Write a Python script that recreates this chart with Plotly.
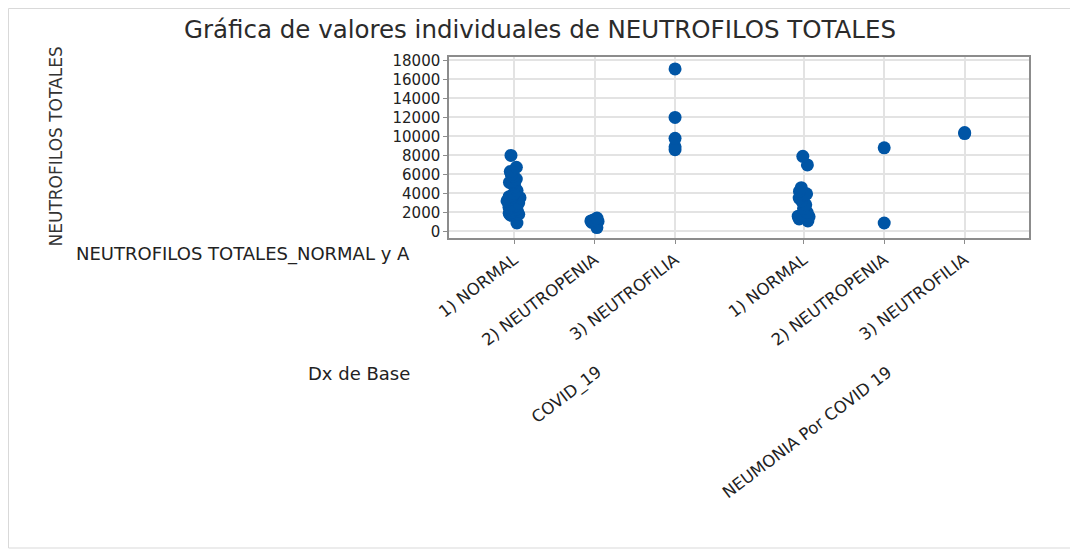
import plotly.graph_objects as go

# ---- data ----
groups = ["COVID_19", "NEUMONIA Por COVID 19"]
categories = ["1) NORMAL", "2) NEUTROPENIA", "3) NEUTROFILIA"]

covid_normal = [8000, 6750, 6300, 6000, 5800, 5500, 5250, 5200, 5150, 5000, 4700,
                4300, 4000, 3800, 3650, 3600, 3550, 3400, 3200, 3000, 2800, 2700,
                2550, 2500, 2300, 2200, 2100, 2000, 1900, 1800, 1700, 880]
covid_neutropenia = [1400, 1200, 1100, 1050, 950, 400]
covid_neutrofilia = [17100, 12000, 9800, 8900, 8600]
neumonia_normal = [7900, 7000, 4600, 4200, 3950, 3900, 3850, 3500, 3200, 2800,
                   2400, 2000, 1700, 1600, 1550, 1300, 1100]
neumonia_neutropenia = [8800, 880]
neumonia_neutrofilia = [10400, 10300]

series = [
    [covid_normal, covid_neutropenia, covid_neutrofilia],
    [neumonia_normal, neumonia_neutropenia, neumonia_neutrofilia],
]
jitters = [[0.9, 0.5, 0.0], [0.9, 0.0, 0.0]]

y_ticks = [0, 2000, 4000, 6000, 8000, 10000, 12000, 14000, 16000, 18000]

title_text = "Gráfica de valores individuales de NEUTROFILOS TOTALES"
y_title = "NEUTROFILOS TOTALES"
x_title1 = "NEUTROFILOS TOTALES_NORMAL y A"
x_title2 = "Dx de Base"

# ---- layout geometry (page body has an 8px margin; compensate) ----
OFF = 8
W, H = 1078 - OFF, 549 - OFF
PL, PR, PT, PB = 449, 1029, 57, 238          # target plot box in page pixels
ML, MR, MT, MB = PL - OFF, W - (PR - OFF), PT - OFF, H - (PB - OFF)
PW, PH = PR - PL, PB - PT
GAP = 3.6
BLUE = "#0055A5"
FONT = "DejaVu Sans"


def px_x(px):
    return (px - PL) / PW


def px_y(py):
    return (PB - py) / PH


fig = go.Figure()
tickvals, ticktext = [], []
for gi, grp in enumerate(groups):
    for ci, cat in enumerate(categories):
        pos = gi * GAP + ci
        vals = series[gi][ci]
        tickvals.append(pos)
        ticktext.append(cat)
        fig.add_trace(go.Box(
            x=[pos] * len(vals), y=vals,
            boxpoints="all", jitter=jitters[gi][ci], pointpos=0, width=0.22,
            fillcolor="rgba(0,0,0,0)", line=dict(color="rgba(0,0,0,0)", width=0),
            marker=dict(color=BLUE, size=13, line=dict(width=0)),
            name=f"{grp} {cat}", showlegend=False, hoveron="points",
        ))

fig.update_layout(
    width=W, height=H,
    margin=dict(l=ML, r=MR, t=MT, b=MB),
    paper_bgcolor="white", plot_bgcolor="white",
    boxmode="overlay",
    font=dict(family=FONT, color="#222222"),
    title=dict(text=title_text, x=(540 - OFF) / W, xref="container", xanchor="center",
               y=1 - (29 - OFF) / H, yref="container", yanchor="middle",
               font=dict(family=FONT, size=24.5, color="#2B2B2B")),
    xaxis=dict(range=[-0.81, 6.40], tickmode="array", tickvals=tickvals,
               ticktext=ticktext, tickangle=-37,
               tickfont=dict(family=FONT, size=16.5, color="#222222"),
               showgrid=True, gridcolor="#E3E3E3", gridwidth=1.5,
               showline=True, linecolor="#8C8C8C", linewidth=1.5, mirror=True,
               ticks="outside", ticklen=4, tickcolor="#8C8C8C", zeroline=False),
    yaxis=dict(range=[-700, 18360], tickmode="array", tickvals=y_ticks,
               tickformat="d",
               tickfont=dict(family=FONT, size=15, color="#222222"),
               showgrid=True, gridcolor="#E3E3E3", gridwidth=1.5,
               showline=True, linecolor="#8C8C8C", linewidth=1.5, mirror=True,
               ticks="outside", ticklen=4, tickcolor="#8C8C8C", zeroline=False),
)

ann = [
    dict(text=y_title, xref="paper", yref="paper", x=px_x(55), y=px_y(146.5),
         xanchor="center", yanchor="middle", textangle=-90, showarrow=False,
         font=dict(family=FONT, size=17, color="#333333")),
    dict(text=x_title1, xref="paper", yref="paper", x=px_x(412), y=px_y(254),
         xanchor="right", yanchor="middle", showarrow=False,
         font=dict(family=FONT, size=18, color="#222222")),
    dict(text=x_title2, xref="paper", yref="paper", x=px_x(412), y=px_y(373),
         xanchor="right", yanchor="middle", showarrow=False,
         font=dict(family=FONT, size=18, color="#222222")),
]
for gi, grp in enumerate(groups):
    center = gi * GAP + 1
    ann.append(dict(text=grp, xref="x", yref="paper", x=center, xshift=14,
                    y=px_y(360), xanchor="right", yanchor="top", textangle=-37,
                    showarrow=False, font=dict(family=FONT, size=16.5, color="#222222")))
fig.update_layout(annotations=ann)

fig.add_shape(type="rect", xref="paper", yref="paper",
              x0=px_x(OFF + 0.5), x1=px_x(1077), y0=px_y(548), y1=px_y(OFF + 0.5),
              line=dict(color="#D9D9D9", width=1), fillcolor="rgba(0,0,0,0)",
              layer="below")

fig.write_html("out.html")
